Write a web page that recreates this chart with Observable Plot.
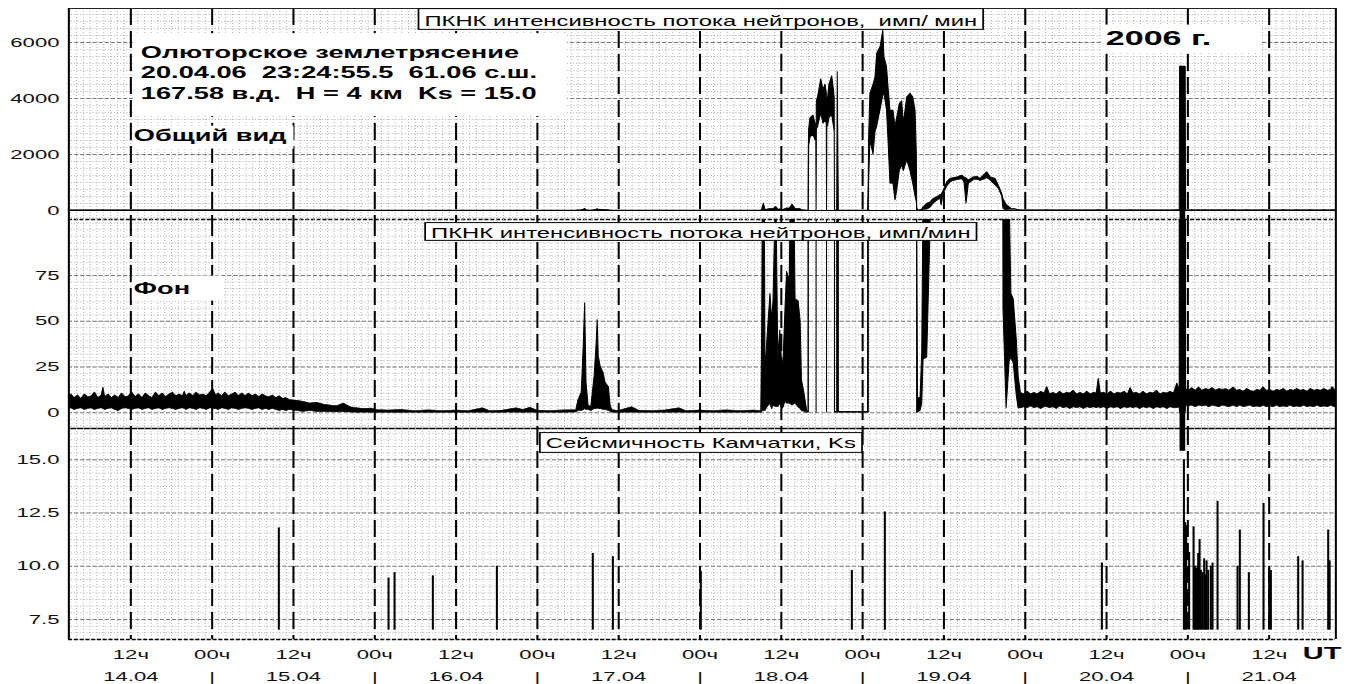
<!DOCTYPE html>
<html><head><meta charset="utf-8">
<script src="https://cdn.jsdelivr.net/npm/d3@7"></script>
<script src="https://cdn.jsdelivr.net/npm/@observablehq/plot@0.6"></script>
<style>
html,body{margin:0;padding:0;background:#fff;}
#chart{width:1354px;height:684px;overflow:hidden;position:relative;}
#chart svg{display:block;overflow:visible;}
</style></head><body><div id="chart"></div>
<script>
// ================= DATA =================
const T0 = Date.UTC(2006, 3, 14); // 14.04.2006 00:00 UT; times below are hours since T0

// Neutron flux (PKNK), counts per minute: low / high envelope of the noisy record, in four stretches
// 1) noisy background 14.04 - 16.04
const bgBeforeHours = [2.85,3.25,3.75,4.25,4.75,5.25,5.75,6.25,6.75,7.25,
 7.75,8.0,8.25,8.75,9.25,9.75,10.25,10.75,11.25,11.75,
 12.25,12.75,13.25,13.75,14.25,14.75,15.25,15.75,16.25,16.75,
 17.25,17.75,18.25,18.75,19.25,19.75,20.0,20.25,20.75,21.25,
 21.75,22.25,22.75,23.25,23.75,24.2,24.6,25.0,25.5,26.0,
 26.5,27.0,27.5,28.0,28.5,29.0,29.5,30.0,30.5,31.0,
 31.5,32.0,32.5,33.0,33.5,34.0,34.5,35.0,35.5,
 36.5,37.5,38.5,39.5,40.5,41.5,42.5,43.5,44.5,45.5,46.5,47.5,48.5];
const bgBeforeLow = [2,2.5,1.5,2,2.5,1.5,2,2.5,1.5,2,
 2.5,2,1.5,2,2.5,1.5,1,2,2.5,2,
 1.5,2,2.5,1.5,2,2.5,1.5,2,2.5,1.5,
 2,2.5,2,1.5,2,2.5,2,1.5,2.5,2,
 1.5,2.5,2,1.5,2.5,2,2,1.5,2.5,2,
 1.5,2.5,2,1.5,2,2.5,2,1.5,2,2.5,
 1.5,2,1.5,2,1.5,1,1.5,1,1.5,
 1,0.5,1,0.5,0.5,0.3,0.5,0.3,0.2,0,0.2,0,0];
const bgBeforeHigh = [8,10,8,9.5,7.5,10,8.5,9,11,8,
 9.5,13.7,8.5,10,8,9.5,8,10.5,8.5,9,
 11,8.5,10,8,10.5,9,8,11,9,10.5,
 8.5,10,11,9,10,9,11.5,9,10.5,9,
 11,9.5,10,9,11,13,9.5,10.5,9,11,
 9,10,11,9,10.5,9,10.5,9,10,8.5,
 10,9,8.5,9.5,8,9,7.5,8,7,
 6.5,6,5,5.5,4.5,4,3.5,5,3,2.5,2,2.3,1.5];
// 2) quiet stretch 16.04 - 18.04 with the small burst of 17.04
const quietHours = [50,52,54,56,58,60,62,64,65,67,69,70,71,72,74,76,77.8,
 78.1,78.6,78.9,79.1,79.3,79.6,80.0,80.5,80.8,80.95,81.1,81.4,81.8,82.1,82.6,82.85,83.1,
 84,86,87,89,91,93,94,96,98,100,102,104,105.1];
const quietLow = [0,0,0,0,0,0,0,0.2,0,0,0.2,0,0.2,0,0,0,0.2,
 1,1,1.5,2,1.5,1.5,1,2,2,2.5,2,2,1.5,1.5,1,0.5,0,
 0,0.2,0,0,0,0.2,0,0,0,0,0,0,0];
const quietHigh = [1.2,1.5,1,1.3,1,1.2,1,2.5,1,1.2,2.5,1.5,2.8,1.2,1,1.3,1.5,
 6.7,11,37.6,60,16.5,4,3,20,38,50.7,31,25,22,16.5,14,4,1.5,
 1,3,1.2,1,1.3,2.5,1,1.2,1,1.3,1,1.2,1];
// 3) the bursts of 18.04 - 19.04
const burstHours = [105.23,105.47,105.72,106.0,106.45,106.7,106.9,107.3,107.6,107.9,108.2,108.4,108.65,108.9,109.3,109.7,110.15,110.6,110.9,111.1,111.4,111.87,112.06,
 112.11,112.16,112.36,112.8,113.1,113.22,113.26,113.3,113.44,113.94,114.28,114.57,114.76,114.8,114.84,114.94,115.16,115.56,115.82,115.93,115.97,116.3,116.38,116.54,118,120.85,
 120.96,121.0,121.2,121.66,121.95,122.2,122.7,123.1,123.28,123.65,
 123.87,124.16,124.6,124.9,125.15,125.54,125.89,126.13,126.63,127.12,
 127.52,127.86,128.05,128.1,128.22,128.6,128.85,129.04,129.58,130.07,
 130.56,131.07,131.55,131.7,132.03,132.53,133.02,133.46,134.01,134.75,
 135.09,135.39,135.72,136.46,137.0,137.45,137.94,138.43,138.92,139.66,
 140.15,140.65,140.84,141.3,141.75,142.0,142.35,142.8,143.07,143.4];
const burstLow = [0.5,1,1,3,5,2,4,3,3,5,2,3,6,5,5,4,5,3,2,1,0.5,0,0,
 0,2300,2600,2700,2500,2500,0,2900,2960,3460,3100,3200,3100,0,3000,3000,3300,3400,3000,2800,0,0,0,0,0,0,
 0,1000,2500,2000,2800,3000,3600,4100,4170,3570,
 2500,960,960,360,700,1420,1600,1400,1800,1400,
 960,500,300,0,0,1,5,29,30,100,
 250,350,420,180,600,850,1000,1050,1080,1120,
 1000,240,950,1080,1100,1050,1100,1150,1080,900,
 780,500,57,2.3,28,30,27,9.5,2.3,2.3];
const burstHigh = [44.7,250,20,40,65,50,61,130,30,45,24,30,55,77,72,214,62,61,50,17.5,12,1,0.5,
 2260,2900,3300,3390,3100,3000,2300,3900,4000,4680,4300,4500,4200,3500,4000,4000,4500,4790,4300,4000,0.5,0.5,4940,0.5,0.5,0.5,
 1070,2500,4170,4500,4750,5600,5830,6430,5460,5120,
 4400,3570,3570,3000,3300,3810,3900,3100,4040,4170,
 4040,3570,2000,120,8,8,33,120,240,300,
 420,480,560,560,710,1010,1130,1160,1190,1250,
 1180,1150,1070,1190,1210,1130,1250,1370,1190,1130,
 890,600,400,210,120,65,62,40,20,11];
// 4) noisy background 20.04 - 21.04, with the burst at the earthquake
const bgAfterHours = [143.9,144.4,144.9,145.4,145.9,146.4,146.9,147.3,147.7,148.2,
 148.7,149.2,149.7,150.2,150.7,151.2,151.7,152.2,152.7,153.2,
 153.7,154.2,154.6,154.9,155.2,155.7,156.2,156.7,157.2,157.7,
 158.2,158.7,159.2,159.6,160.0,160.5,161.0,161.5,162.0,162.5,
 163.0,163.5,164.0,164.5,165.0,165.5,166.0,166.5,166.85,166.9,
 167.73,167.78,168.2,168.7,169.2,169.7,170.2,170.7,171.2,171.7,
 172.2,172.7,173.2,173.7,174.2,174.8,175.3,175.8,176.3,176.8,
 177.3,177.8,178.3,178.8,179.2,179.7,180.2,180.7,181.2,181.7,
 182.2,182.7,183.2,183.7,184.2,184.7,185.2,185.7,186.2,186.7,
 187.2,187.7,188.2,188.7,189.2,189.4,189.9];
const bgAfterLow = [3,2.5,3.5,2.5,3,2,3,3,2.5,3,
 2,3.5,2.5,3,2,3,2.5,3,2,3,
 2.5,3,2.5,3,2.5,3,2,3,2.5,3,
 2,3,2.5,3,2.5,3,2,3,2.5,3,
 2,3,2.5,3,2,3,2.5,2.5,3,0,
 0,4,3.5,4,3,4,3.5,4,3,4,
 3.5,3,4,3.5,3,4,3,4,3,3.5,
 4,3,3.5,3,4,3,3.5,3,4,3,
 3.5,3,4,3,3.5,3,4,3,3.5,3,
 4,3,3.5,3,4,3.5,3];
const bgAfterHigh = [10,11.5,10,11,10,11.5,10.5,14,10,11,
 10,11.5,10,11,10.5,12,10,11,10,11.5,
 10,11,10.5,18.6,10.5,11,10,11.5,10,11,
 10.5,11.5,10,13.5,10.5,11,10,11.5,10,11,
 10.5,12,10,11,10.5,11.5,10.5,16,12,5140,
 5140,13,12,13.5,12,13.8,12,13,12.5,13.5,
 12,13,12.5,13,12,13.8,12,12.5,11.5,13,
 12,11.5,12.5,12,14,12,12.5,11.5,12.5,12,
 13,11.5,12.5,12,13,12,12.5,11.5,13,12,
 12.5,12,13,12,12.5,14,12];

// Kamchatka seismicity: event times (hours since T0) and energy class Ks
const ksHours = [33.84,50.03,50.92,56.57,66.02,80.18,83.14,96.12,118.41,123.28,155.31,167.415,167.6,167.75,168.19,168.84,169.03,169.22,169.43,169.52,169.73,169.92,170.17,170.41,170.6,170.76,171.0,171.39,171.64,172.38,175.33,175.67,177.0,179.17,180.0,180.25,184.28,184.93,188.71,188.92];
const ksValues = [11.8,9.45,9.7,9.55,10.0,10.6,10.45,9.75,9.8,12.55,10.15,15.0,12.05,11.9,10.65,11.85,10.0,9.9,10.0,10.6,11.25,9.8,9.7,10.35,9.6,10.25,9.8,10.0,10.15,13.05,10.0,11.7,9.7,12.95,9.9,9.8,10.45,10.25,11.7,10.25];
const KS_BASE = 7;

// Neutron burst at the earthquake (hours since T0) and how far its trace runs into the Ks panel
const spikeHours = [166.9, 167.73];
const spikeKsReach = 15.4;

// Tick values and texts
const n1Ticks = [0, 2000, 4000, 6000];
const n2Ticks = [0, 25, 50, 75];
const ksTicks = [7.5, 10, 12.5, 15];
const xStartHours = 2.85, xEndHours = 189.84;
const TITLE_N1 = "ПКНК интенсивность потока нейтронов,  имп/ мин";
const TITLE_N2 = "ПКНК интенсивность потока нейтронов, имп/мин";
const TITLE_KS = "Сейсмичность Камчатки, Ks";
const QUAKE_TEXT = "Олюторское землетрясение\n20.04.06  23:24:55.5  61.06 с.ш.\n167.58 в.д.  H = 4 км  Ks = 15.0";
const LABEL_ALL = "Общий вид";
const LABEL_BG = "Фон";
const YEAR = "2006 г.";
const UT = "UT";

// ================= LAYOUT =================
const PAGE_W = 1354;
const W = 796, S = PAGE_W / W;          // drawn narrow, stretched horizontally like the original
const ML = 68 / S, MR = W - 1335 / S;
const hour = h => new Date(T0 + h * 3600e3);
const xDomain = [hour(xStartHours), hour(xEndHours)];
const nH = [...bgBeforeHours, ...quietHours, ...burstHours, ...bgAfterHours];
const nL = [...bgBeforeLow, ...quietLow, ...burstLow, ...bgAfterLow];
const nU = [...bgBeforeHigh, ...quietHigh, ...burstHigh, ...bgAfterHigh];
const neutron = nH.map((h, i) => ({date: hour(h), lo: nL[i], hi: nU[i]}));
const ks = ksHours.map((h, i) => ({date: hour(h), ks: ksValues[i]}));
const spike = [{x1: hour(spikeHours[0]), x2: hour(spikeHours[1])}];
const halfDays = d3.utcHour.every(12).range(xDomain[0], xDomain[1]);
const hours = d3.utcHour.range(xDomain[0], xDomain[1]);

const FONT = "'Liberation Sans', Arial, sans-serif";
const base = {
  width: W, marginLeft: ML, marginRight: MR,
  x: {type: "utc", domain: xDomain, axis: null},
  style: {fontFamily: FONT, fontSize: "13px", color: "#111", background: "none", overflow: "visible"}
};

function grid(yMinor, yMajor) {
  return [
    Plot.ruleY(yMinor, {stroke: "#b4b4b4", strokeWidth: 1, strokeDasharray: "0.6,1.2"}),
    Plot.ruleX(hours, {stroke: "#b4b4b4", strokeWidth: 0.6, strokeDasharray: "1,2"}),
    Plot.ruleY(yMajor, {stroke: "#7a7a7a", strokeWidth: 1, strokeDasharray: "2.4,1.2"}),
    Plot.ruleX(halfDays, {stroke: "#000", strokeWidth: 1.2, strokeDasharray: "17,6"})
  ];
}
const label = (txt, o) => Plot.text([txt], {text: d => d, frameAnchor: "top-left", textAnchor: "start", lineAnchor: "bottom", fill: "#000", ...o});

// ---- panel 1: general view ----
const y1Dom = [-320, 7210];
const p1 = Plot.plot({...base, height: 219, marginTop: 8, marginBottom: 0,
  y: {domain: y1Dom, axis: null},
  marks: [
    ...grid(d3.range(-250, y1Dom[1], 250), n1Ticks.filter(d => d > 0)),
    Plot.ruleY([0], {stroke: "#000", strokeWidth: 1}),
    Plot.areaY(neutron, {x: "date", y1: "lo", y2: "hi", fill: "#000", stroke: "#000", strokeWidth: 0.6}),
    Plot.rect(spike, {x1: "x1", x2: "x2", y1: y1Dom[0], y2: 0, fill: "#000"}),
    Plot.axisY({ticks: n1Ticks, tickSize: 0, tickPadding: 5.5, label: null, tickFormat: d => String(d), fontSize: 13}),
    Plot.ruleY([y1Dom[1]], {stroke: "#222", strokeWidth: 1}),
    Plot.ruleY([y1Dom[0]], {stroke: "#000", strokeWidth: 1.5, strokeDasharray: "2.4,1"}),
    Plot.ruleX(xDomain, {stroke: "#000", strokeWidth: 1.2}),
    label(TITLE_N1, {dx: 411.5 - ML, dy: 17, textAnchor: "middle", fontSize: 14}),
    label(QUAKE_TEXT, {dx: 140 / S - ML, dy: 90, fontSize: 16, fontWeight: "bold", lineHeight: 20.5 / 16}),
    label(LABEL_ALL, {dx: 133 / S - ML, dy: 132, fontSize: 16, fontWeight: "bold"}),
    label(YEAR, {dx: 1105 / S - ML, dy: 36, fontSize: 20, fontWeight: "bold"})
  ]
});

// ---- panel 2: background ----
const y2Dom = [-8.6, 105.6];
const st2 = 25 / 7;
const p2 = Plot.plot({...base, height: 209, marginTop: 0, marginBottom: 0,
  y: {domain: y2Dom, axis: null},
  marks: [
    ...grid(d3.range(-2 * st2, y2Dom[1], st2), n2Ticks),
    Plot.areaY(neutron, {x: "date", y1: "lo", y2: "hi", fill: "#000", stroke: "#000", strokeWidth: 0.6, clip: true}),
    Plot.rect(spike, {x1: "x1", x2: "x2", y1: y2Dom[0], y2: y2Dom[1], fill: "#000"}),
    Plot.axisY({ticks: n2Ticks, tickSize: 0, tickPadding: 5.5, label: null, fontSize: 13}),
    Plot.ruleY([y2Dom[0]], {stroke: "#000", strokeWidth: 1.6}),
    Plot.ruleX(xDomain, {stroke: "#000", strokeWidth: 1.2}),
    label(TITLE_N2, {dx: 411.5 - ML, dy: 18, textAnchor: "middle", fontSize: 14}),
    label(LABEL_BG, {dx: 133 / S - ML, dy: 74, fontSize: 16, fontWeight: "bold"})
  ]
});

// ---- panel 3: seismicity ----
const y3Dom = [6.56, 16.47];
const p3 = Plot.plot({...base, height: 256, marginTop: 0, marginBottom: 45,
  y: {domain: y3Dom, axis: null},
  marks: [
    ...grid(d3.range(6.5625, y3Dom[1], 0.3125), ksTicks),
    Plot.ruleX(ks, {x: "date", y1: KS_BASE, y2: "ks", stroke: "#000", strokeWidth: 1.2}),
    Plot.rect(spike, {x1: "x1", x2: "x2", y1: spikeKsReach, y2: y3Dom[1], fill: "#000"}),
    Plot.axisY({ticks: ksTicks, tickSize: 0, tickPadding: 5.5, label: null, tickFormat: d3.format(".1f"), fontSize: 13}),
    Plot.ruleY([y3Dom[0]], {stroke: "#000", strokeWidth: 1.5, strokeDasharray: "2.4,1"}),
    Plot.ruleX(xDomain, {stroke: "#000", strokeWidth: 1.2}),
    Plot.text(halfDays, {x: d => d, text: d => d.getUTCHours() === 12 ? `12ч\n${d3.utcFormat("%d.%m")(d)}` : "00ч\n|",
      frameAnchor: "bottom", lineAnchor: "bottom", dy: 41, lineHeight: 22 / 13, fontSize: 13, fill: "#111"}),
    Plot.text([UT], {text: d => d, frameAnchor: "bottom-right", textAnchor: "start", lineAnchor: "bottom", dx: 1302 / S - 1335 / S, dy: 19, fontSize: 17, fontWeight: "bold", fill: "#000"}),
    label(TITLE_KS, {dx: 411.5 - ML, dy: 19, textAnchor: "middle", fontSize: 14})
  ]
});

// ---- boxes behind labels ----
const BOXES = [
  {text: TITLE_N1, stroke: "#000", l: 3.5, r: 3.5, t: 4, b: 1},
  {text: TITLE_N2, stroke: "#000", l: 3.5, r: 3.5, t: 2, b: 0},
  {text: TITLE_KS, stroke: "#000", l: 3.5, r: 3.5, t: 2, b: 2},
  {text: QUAKE_TEXT, l: 8 / S, r: 30 / S, t: 10, b: 14},
  {text: LABEL_ALL, l: 1 / S, r: 7 / S, t: 0.5, b: 4.5},
  {text: YEAR, l: 3 / S, r: 50 / S, t: 2, b: 4},
  {text: LABEL_BG, l: 2 / S, r: 32 / S, t: 3.5, b: 3.5}
];
const chart = document.getElementById("chart");
for (const svg of [p1, p2, p3]) {
  svg.setAttribute("width", PAGE_W);
  svg.setAttribute("preserveAspectRatio", "none");
  chart.appendChild(svg);
  for (const t of Array.from(svg.querySelectorAll("text"))) {
    const spec = BOXES.find(b => b.text.replace(/\n/g, "") === t.textContent);
    if (!spec) continue;
    const bb = t.getBBox();
    const r = document.createElementNS("http://www.w3.org/2000/svg", "rect");
    r.setAttribute("x", bb.x - spec.l);
    r.setAttribute("y", bb.y - spec.t);
    r.setAttribute("width", bb.width + spec.l + spec.r);
    r.setAttribute("height", bb.height + spec.t + spec.b);
    r.setAttribute("fill", "#fff");
    r.setAttribute("stroke", spec.stroke || "none");
    r.setAttribute("stroke-width", 1);
    const tr = t.getAttribute("transform");
    if (tr) r.setAttribute("transform", tr);
    t.parentNode.insertBefore(r, t);
  }
}
</script>
</body></html>
